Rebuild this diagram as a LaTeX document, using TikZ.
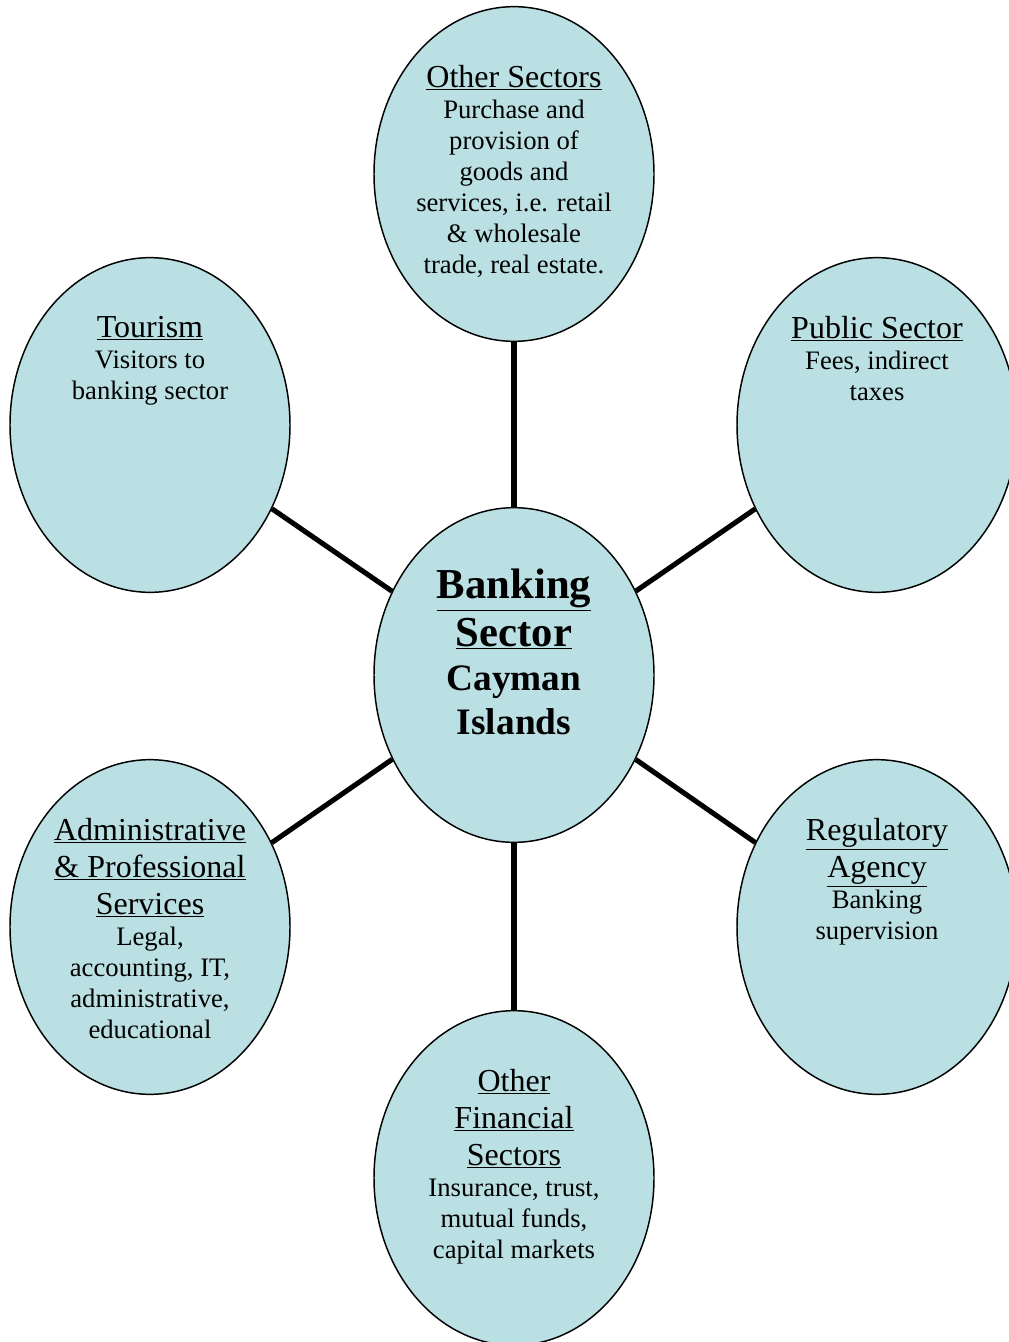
\documentclass[tikz,border=0pt]{standalone}
\usepackage{fontspec}
\setmainfont{Liberation Serif}
\usepackage{tikz}
\usetikzlibrary{shapes.geometric}
\definecolor{sectfill}{RGB}{186,224,227}
\newcommand{\ttl}[1]{{\fontsize{24}{27.75}\selectfont\underline{#1}}}
\newcommand{\hubttl}[1]{{\fontsize{32}{36}\selectfont\bfseries\underline{#1}}}
\newcommand{\hubsub}[1]{{\fontsize{28}{32}\selectfont\bfseries #1}}

\begin{document}
\begin{tikzpicture}[
  x=0.75pt, y=-0.75pt,
  sector/.style={ellipse, draw=black, line width=1.1pt, fill=sectfill,
    minimum width=210pt, minimum height=251pt, inner sep=0pt},
  txt/.style={anchor=north, yshift=-44pt, align=center, inner sep=0pt,
    font=\fontsize{20}{23.25}\selectfont},
  link/.style={line width=3.8pt, draw=black}
]
\useasboundingbox (0,0) rectangle (1008,1342);

\node[sector] (hub) at (514,675) {};
\node[sector] (other) at (514,174) {};
\node[sector] (tourism) at (150,425) {};
\node[sector] (public) at (877,425) {};
\node[sector] (admin) at (150,927) {};
\node[sector] (regul) at (877,927) {};
\node[sector] (finance) at (514,1178) {};

\draw[link] (hub) -- (other);
\draw[link] (hub) -- (tourism);
\draw[link] (hub) -- (public);
\draw[link] (hub) -- (admin);
\draw[link] (hub) -- (regul);
\draw[link] (hub) -- (finance);

\node[txt, yshift=-2.5pt] (hubtxt) at (hub.north)
  {\hubttl{Banking}\\[4.5pt]\hubttl{Sector}\\[10pt]
   \hubsub{Cayman}\\[6.5pt]\hubsub{Islands}};
\node[txt] (othertxt) at (other.north)
  {\ttl{Other Sectors}\\Purchase and\\provision of\\goods and\\services, i.e. retail\\\& wholesale\\trade, real estate.};
\node[txt] (tourismtxt) at (tourism.north)
  {\ttl{Tourism}\\Visitors to\\banking sector};
\node[txt] (publictxt) at (public.north)
  {\ttl{Public Sector}\\Fees, indirect\\taxes};
\node[txt] (admintxt) at (admin.north)
  {\ttl{Administrative}\\[4.5pt]\ttl{\& Professional}\\[4.5pt]\ttl{Services}\\Legal,\\accounting, IT,\\administrative,\\educational};
\node[txt] (regultxt) at (regul.north)
  {\ttl{Regulatory}\\[4.5pt]\ttl{Agency}\\Banking\\supervision};
\node[txt] (financetxt) at (finance.north)
  {\ttl{Other}\\[4.5pt]\ttl{Financial}\\[4.5pt]\ttl{Sectors}\\Insurance, trust,\\mutual funds,\\capital markets};

\end{tikzpicture}
\end{document}
